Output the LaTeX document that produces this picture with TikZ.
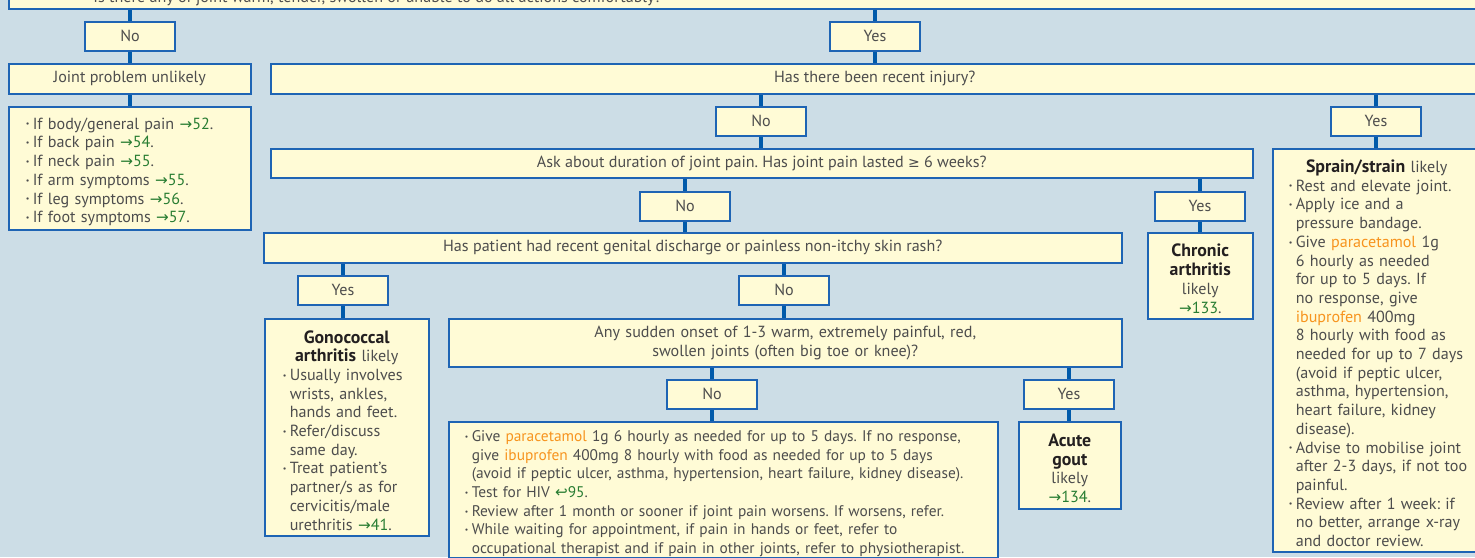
\documentclass[tikz,border=0pt]{standalone}
\usepackage{fontspec}
\usepackage{graphicx}
\setmainfont{PT Sans}
\newfontfamily\symf{DejaVu Sans}
\usetikzlibrary{backgrounds}
\frenchspacing
\definecolor{bgc}{RGB}{204,221,230}
\definecolor{boxf}{RGB}{255,251,214}
\definecolor{bord}{RGB}{30,100,180}
\definecolor{connc}{RGB}{0,90,170}
\definecolor{txt}{RGB}{77,77,77}
\definecolor{refg}{RGB}{40,125,50}
\definecolor{drugc}{RGB}{247,148,30}
\definecolor{hdc}{RGB}{35,31,32}
\newcommand\bul{\makebox[3.5pt][l]{\raisebox{0.28ex}{\scalebox{0.5}{•}}}}
\newcommand\LB[1]{\par\noindent\hbox{\bul#1}}
\newcommand\LC[1]{\par\noindent\hbox{\hspace*{3.5pt}#1}}
\newcommand\LH[1]{\par\noindent\hbox to\hsize{\hfil#1\hfil}}
\newcommand\refto[1]{{\color{refg}{\symf\fontsize{7.6}{9}\selectfont →}#1}}
\newcommand\hookto[1]{{\color{refg}{\symf\fontsize{7.6}{9}\selectfont ↩}#1}}
\newcommand\drug[1]{{\color{drugc}#1}}
\newcommand\hb[1]{{\color{hdc}\fontsize{8.9}{9.35}\selectfont\textbf{#1}}}
\newcommand\geqsym{{\symf\fontsize{7}{9}\selectfont ≥}}
\tikzset{
  bx/.style={draw=bord, fill=boxf, line width=0.75pt, inner sep=0pt, text=txt,
    font=\fontsize{8.05}{9.35}\selectfont},
  lab/.style={bx, anchor=north, minimum width=45pt, minimum height=14.5pt},
  conn/.style={draw=connc, line width=2pt},
}
\begin{document}
\begin{tikzpicture}[x=0.5pt,y=-0.5pt]
\useasboundingbox (0,0) rectangle (1475,557);
\begin{pgfonlayer}{background}
\fill[bgc] (0,0) rectangle (1475,557);
\end{pgfonlayer}

% top question box (cut off by the page edge)
\node[bx, anchor=north west, minimum width=736pt, minimum height=19pt] (top) at (8,-30) {};
\node[anchor=base west, inner sep=0pt, text=txt, font=\fontsize{8.05}{9.35}\selectfont] (toptxt) at (93,2.5)
  {Is there any of joint warm, tender, swollen or unable to do all actions comfortably?};

\node[lab] (No1) at (130,21) {No};
\node[lab] (Yes1) at (875,21) {Yes};

\node[bx, anchor=north west, minimum width=121pt, minimum height=15pt] (joint) at (8,63) {Joint problem unlikely};
\node[bx, anchor=north west, minimum width=604pt, minimum height=15pt] (injury) at (270,63) {Has there been recent injury?};

\node[bx, anchor=north west, minimum width=121pt, minimum height=61.5pt, text width=104pt] (list) at (8,106) {%
\LB{If body/general pain \refto{52}.}
\LB{If back pain \refto{54}.}
\LB{If neck pain \refto{55}.}
\LB{If arm symptoms \refto{55}.}
\LB{If leg symptoms \refto{56}.}
\LB{If foot symptoms \refto{57}.}\par};

\node[lab] (injNo) at (761,106) {No};
\node[lab] (injYes) at (1376,106) {Yes};

\node[bx, anchor=north west, minimum width=491pt, minimum height=14.5pt] (ask) at (270,148)
  {Ask about duration of joint pain. Has joint pain lasted \geqsym\ 6 weeks?};

\node[bx, anchor=north west, minimum width=104pt, minimum height=201.5pt, text width=88pt] (sprain) at (1272,148) {%
\LH{\hb{Sprain/strain} likely}
\LB{Rest and elevate joint.}
\LB{Apply ice and a}
\LC{pressure bandage.}
\LB{Give \drug{paracetamol} 1g}
\LC{6 hourly as needed}
\LC{for up to 5 days. If}
\LC{no response, give}
\LC{\drug{ibuprofen} 400mg}
\LC{8 hourly with food as}
\LC{needed for up to 7 days}
\LC{(avoid if peptic ulcer,}
\LC{asthma, hypertension,}
\LC{heart failure, kidney}
\LC{disease).}
\LB{Advise to mobilise joint}
\LC{after 2-3 days, if not too}
\LC{painful.}
\LB{Review after 1 week: if}
\LC{no better, arrange x-ray}
\LC{and doctor review.}\par};

\node[lab] (askNo) at (685,191) {No};
\node[lab] (askYes) at (1200,191) {Yes};

\node[bx, anchor=north west, minimum width=429pt, minimum height=15pt] (genital) at (263,232)
  {Has patient had recent genital discharge or painless non-itchy skin rash?};

\node[bx, anchor=north west, minimum width=52.5pt, minimum height=43pt, text width=50pt] (chronic) at (1147,232) {%
\LH{\hb{Chronic}}
\LH{\hb{arthritis}}
\LH{likely}
\LH{\refto{133}.}\par};

\node[lab] (genYes) at (343,275) {Yes};
\node[lab] (genNo) at (784,275) {No};

\node[bx, anchor=north west, minimum width=82pt, minimum height=108.5pt, text width=64pt] (gono) at (264,318) {%
\LH{\hb{Gonococcal}}
\LH{\hb{arthritis} likely}
\LB{Usually involves}
\LC{wrists, ankles,}
\LC{hands and feet.}
\LB{Refer/discuss}
\LC{same day.}
\LB{Treat patient's}
\LC{partner/s as for}
\LC{cervicitis/male}
\LC{urethritis \refto{41}.}\par};

\node[bx, anchor=north west, minimum width=336.5pt, minimum height=24pt, text width=330pt, align=center] (sudden) at (448,318)
  {Any sudden onset of 1-3 warm, extremely painful, red,\\ swollen joints (often big toe or knee)?};

\node[lab] (sudNo) at (712,379) {No};
\node[lab] (sudYes) at (1069,379) {Yes};

\node[bx, anchor=north west, minimum width=274.5pt, minimum height=68pt, text width=258.5pt,
  font=\fontsize{7.7}{9.35}\selectfont] (bottom) at (448,421) {%
\LB{Give \drug{paracetamol} 1g 6 hourly as needed for up to 5 days. If no response,}
\LC{give \drug{ibuprofen} 400mg 8 hourly with food as needed for up to 5 days}
\LC{(avoid if peptic ulcer, asthma, hypertension, heart failure, kidney disease).}
\LB{Test for HIV \hookto{95}.}
\LB{Review after 1 month or sooner if joint pain worsens. If worsens, refer.}
\LB{While waiting for appointment, if pain in hands or feet, refer to}
\LC{occupational therapist and if pain in other joints, refer to physiotherapist.}\par};

\node[bx, anchor=north west, minimum width=51pt, minimum height=43.5pt, text width=48pt] (gout) at (1018,421) {%
\LH{\hb{Acute}}
\LH{\hb{gout}}
\LH{likely}
\LH{\refto{134}.}\par};

\begin{pgfonlayer}{background}
\draw[conn] (No1.north) -- (No1.north |- top.south);
\draw[conn] (Yes1.north) -- (Yes1.north |- top.south);
\draw[conn] (No1.south) -- (No1.south |- joint.north);
\draw[conn] (joint.south) -- (list.north);
\draw[conn] (Yes1.south) -- (Yes1.south |- injury.north);
\draw[conn] (injNo.north) -- (injNo.north |- injury.south);
\draw[conn] (injYes.north) -- (injYes.north |- injury.south);
\draw[conn] (injNo.south) -- (injNo.south |- ask.north);
\draw[conn] (injYes.south) -- (injYes.south |- sprain.north);
\draw[conn] (askNo.north) -- (askNo.north |- ask.south);
\draw[conn] (askYes.north) -- (askYes.north |- ask.south);
\draw[conn] (askNo.south) -- (askNo.south |- genital.north);
\draw[conn] (askYes.south) -- (askYes.south |- chronic.north);
\draw[conn] (genYes.north) -- (genYes.north |- genital.south);
\draw[conn] (genNo.north) -- (genNo.north |- genital.south);
\draw[conn] (genYes.south) -- (genYes.south |- gono.north);
\draw[conn] (genNo.south) -- (genNo.south |- sudden.north);
\draw[conn] (sudNo.north) -- (sudNo.north |- sudden.south);
\draw[conn] (sudYes.north) -- (sudYes.north |- sudden.south);
\draw[conn] (sudNo.south) -- (sudNo.south |- bottom.north);
\draw[conn] (sudYes.south) -- (sudYes.south |- gout.north);
\end{pgfonlayer}
\end{tikzpicture}
\end{document}
